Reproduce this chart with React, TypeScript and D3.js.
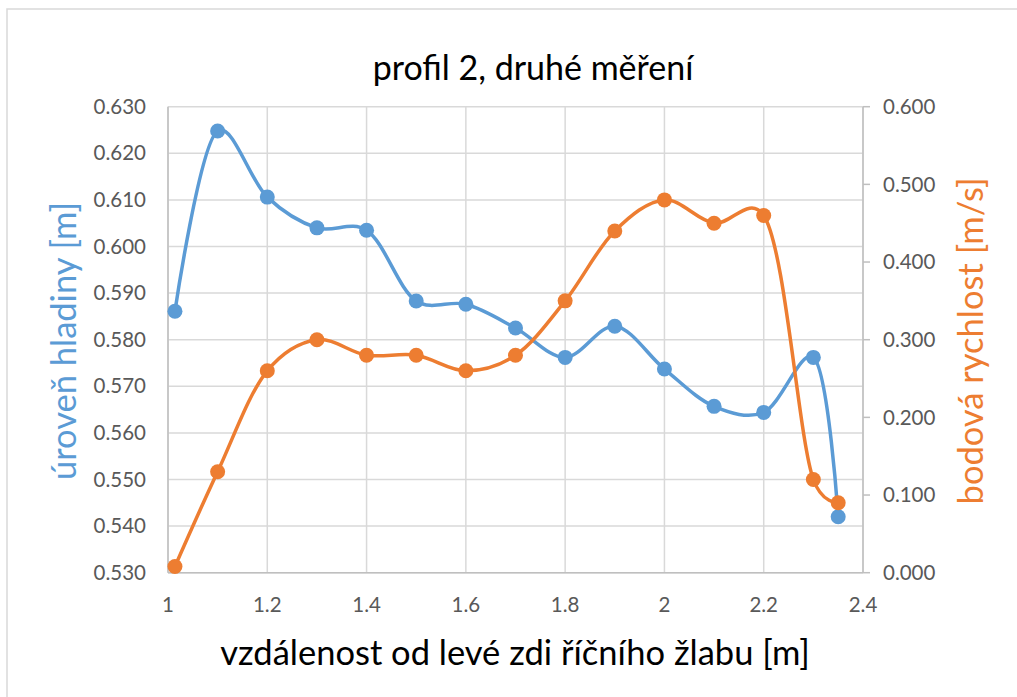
import React from "react";
import * as d3 from "d3";

const distances = [1.014, 1.1, 1.2, 1.3, 1.4, 1.5, 1.6, 1.7, 1.8, 1.9, 2.0, 2.1, 2.2, 2.3, 2.35];
const waterLevel = [0.5861, 0.6248, 0.6106, 0.604, 0.6035, 0.5883, 0.5876, 0.5825, 0.5762, 0.5829, 0.5737, 0.5657, 0.5644, 0.5762, 0.542];
const velocity = [0.008, 0.13, 0.26, 0.3, 0.28, 0.28, 0.26, 0.28, 0.35, 0.44, 0.48, 0.45, 0.46, 0.12, 0.09];
const xTicks = [1, 1.2, 1.4, 1.6, 1.8, 2, 2.2, 2.4];
const leftTicks = d3.range(0, 11).map((i) => 0.53 + i * 0.01);
const rightTicks = d3.range(0, 7).map((i) => i * 0.1);

const title = "profil 2, druhé měření";
const xTitle = "vzdálenost od levé zdi říčního žlabu [m]";
const leftTitle = "úroveň hladiny [m]";
const rightTitle = "bodová rychlost [m/s]";

const BLUE = "#5B9BD5";
const ORANGE = "#ED7D31";
const FONT = "Lato, 'Open Sans', sans-serif";

export default function App() {
  const W = 1017, H = 697;
  const L = 168, R = 863, T = 106.7, B = 572.7;
  const x = d3.scaleLinear().domain([1, 2.4]).range([L, R]);
  const yL = d3.scaleLinear().domain([0.53, 0.63]).range([B, T]);
  const yR = d3.scaleLinear().domain([0, 0.6]).range([B, T]);

  const curve = d3.curveCatmullRom.alpha(0.25);
  const lineL = d3.line<number>().x((_, i) => x(distances[i])).y((d) => yL(d)).curve(curve);
  const lineR = d3.line<number>().x((_, i) => x(distances[i])).y((d) => yR(d)).curve(curve);

  return (
    <svg width={W} height={H} style={{ position: "absolute", left: 0, top: 0, background: "#fff" }} fontFamily={FONT}>
      <rect x={7} y={9} width={W + 10} height={H + 10} fill="#fff" stroke="#D9D9D9" strokeWidth={1.5} />
      <text x={533} y={80} textAnchor="middle" fontSize={34} fill="#000">{title}</text>

      {leftTicks.map((t, i) => (
        <line key={"hg" + i} x1={L} x2={R} y1={yL(t)} y2={yL(t)} stroke="#D9D9D9" strokeWidth={1.5} />
      ))}
      {xTicks.map((t, i) => (
        <line key={"vg" + i} x1={x(t)} x2={x(t)} y1={T} y2={B} stroke="#D9D9D9" strokeWidth={1.5} />
      ))}
      <line x1={L} x2={L} y1={T} y2={B} stroke="#BFBFBF" strokeWidth={1.5} />
      <line x1={L} x2={R} y1={B} y2={B} stroke="#BFBFBF" strokeWidth={1.5} />
      <line x1={R} x2={R} y1={T} y2={B} stroke="#BFBFBF" strokeWidth={1.5} />
      {rightTicks.map((t, i) => (
        <line key={"rt" + i} x1={R} x2={R + 7} y1={yR(t)} y2={yR(t)} stroke="#BFBFBF" strokeWidth={1.5} />
      ))}

      {leftTicks.map((t, i) => (
        <text key={"lt" + i} x={146} y={yL(t)} dy="0.35em" textAnchor="end" fontSize={20.5} fill="#595959">
          {d3.format(".3f")(t)}
        </text>
      ))}
      {rightTicks.map((t, i) => (
        <text key={"rl" + i} x={883} y={yR(t)} dy="0.35em" textAnchor="start" fontSize={20.5} fill="#595959">
          {d3.format(".3f")(t)}
        </text>
      ))}
      {xTicks.map((t, i) => (
        <text key={"xl" + i} x={x(t)} y={612} textAnchor="middle" fontSize={20.5} fill="#595959">
          {d3.format("")(t)}
        </text>
      ))}

      <text x={515} y={665} textAnchor="middle" fontSize={34.5} fill="#000">{xTitle}</text>
      <text transform={`translate(76,341) rotate(-90)`} textAnchor="middle" fontSize={34.5} fill={BLUE}>{leftTitle}</text>
      <text transform={`translate(983,341) rotate(-90)`} textAnchor="middle" fontSize={34.5} fill={ORANGE}>{rightTitle}</text>

      <path d={lineL(waterLevel) || ""} fill="none" stroke={BLUE} strokeWidth={3.5} strokeLinejoin="round" />
      {waterLevel.map((v, i) => (
        <circle key={"b" + i} cx={x(distances[i])} cy={yL(v)} r={7.5} fill={BLUE} />
      ))}
      <path d={lineR(velocity) || ""} fill="none" stroke={ORANGE} strokeWidth={3.5} strokeLinejoin="round" />
      {velocity.map((v, i) => (
        <circle key={"o" + i} cx={x(distances[i])} cy={yR(v)} r={7.5} fill={ORANGE} />
      ))}
    </svg>
  );
}
